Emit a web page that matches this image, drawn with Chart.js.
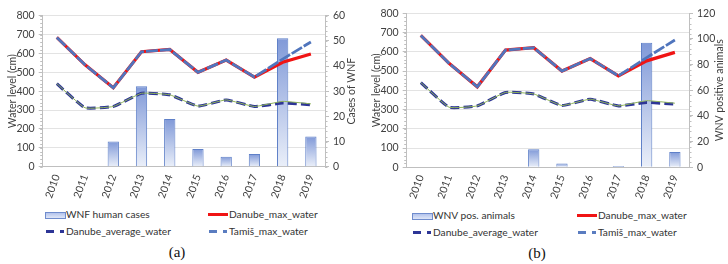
<!DOCTYPE html>
<html>
<head>
<meta charset="utf-8">
<script src="https://cdn.jsdelivr.net/npm/chart.js@4.4.1/dist/chart.umd.min.js"></script>
<style>
  html, body { margin: 0; padding: 0; background: #fff; }
  body { width: 728px; height: 264px; position: relative; overflow: hidden; font-family: Lato, "Noto Sans", sans-serif; }
  .panel { position: absolute; top: 0; width: 364px; height: 264px; }
  .panel canvas { position: absolute; left: 0; top: 0; }
  .leg { position: absolute; font-size: 10.2px; color: #333; line-height: 12px; white-space: nowrap; }
  .sym { position: absolute; }
  .caption { position: absolute; font-family: "Liberation Serif", "DejaVu Serif", serif; font-size: 15px; color: #111; transform: translate(-50%, -50%); }
</style>
</head>
<body>

<div class="panel" id="panelA" style="left:0"><canvas id="chartA" width="364" height="205"></canvas></div>
<div class="panel" id="panelB" style="left:364px"><canvas id="chartB" width="364" height="205"></canvas></div>

<script>
// ---------------------------------------------------------
// data
// ---------------------------------------------------------
const years = ['2010', '2011', '2012', '2013', '2014', '2015', '2016', '2017', '2018', '2019'];

const danubeMax     = [685, 540, 418, 609, 621, 500, 565, 475, 553, 597];
const tamisMax      = [685, 540, 418, 609, 621, 500, 565, 475, 570, 661];
const danubeAverage = [440, 312, 319, 389, 381, 321, 354, 319, 337, 328];
const greenLine     = [440, 312, 319, 389, 381, 321, 354, 319, 346, 333];

const wnfHumanCases = [0, 0, 10, 32, 19, 7, 4, 5, 51, 12];
const wnvAnimals    = [0, 0, 0, 0, 14, 3, 0, 1, 97, 12];

const leftTicks = { min: 0, max: 800, step: 100 };

// ---------------------------------------------------------
// helpers
// ---------------------------------------------------------
const TICK_FONT = { family: 'Lato', size: 10.5 };
const TEXT = '#404040';
const AXIS = '#bfbfbf';

function barGradient(ctx) {
    const chart = ctx.chart;
    if (!chart.chartArea || ctx.type !== 'data') return '#a9bbe8';
    const scale = chart.scales.y1;
    const top = scale.getPixelForValue(ctx.raw);
    const bottom = scale.getPixelForValue(0);
    if (bottom - top < 1) return '#8aa2dc';
    const g = chart.ctx.createLinearGradient(0, top, 0, bottom);
    g.addColorStop(0, '#8099d8');
    g.addColorStop(1, '#eaeff9');
    return g;
}

// minor tick marks on both y axes + right title drawn bottom-to-top
const axisExtras = {
    id: 'axisExtras',
    afterDraw(chart, args, opts) {
        const c = chart.ctx;
        c.save();
        c.strokeStyle = AXIS;
        c.lineWidth = 1;
        ['y', 'y1'].forEach(id => {
            const s = chart.scales[id];
            const step = s.options.ticks.stepSize / 5;
            const x = id === 'y' ? s.right : s.left;
            const dir = id === 'y' ? -1 : 1;
            for (let v = s.min; v <= s.max + 1e-9; v += step) {
                const py = Math.round(s.getPixelForValue(v)) + 0.5;
                c.beginPath();
                c.moveTo(x, py);
                c.lineTo(x + dir * 2.5, py);
                c.stroke();
            }
        });
        // right axis title
        c.fillStyle = TEXT;
        c.font = '10.5px Lato';
        c.textAlign = 'center';
        c.textBaseline = 'middle';
        c.translate(opts.titleX, (chart.chartArea.top + chart.chartArea.bottom) / 2);
        c.rotate(-Math.PI / 2);
        c.fillText(opts.rightTitle, 0, 0);
        c.restore();
    }
};

function makeChart(canvasId, barLabel, barValues, rightMax, rightStep, rightTitle, geom) {
    return new Chart(document.getElementById(canvasId), {
        data: {
            labels: years,
            datasets: [
                {
                    type: 'line', label: 'greenLine', data: greenLine, yAxisID: 'y',
                    borderColor: '#8fb35a', borderWidth: 1, pointRadius: 0, tension: 0.12, order: 1
                },
                {
                    type: 'line', label: 'Danube_average_water', data: danubeAverage, yAxisID: 'y',
                    borderColor: '#2d3596', borderWidth: 3, borderDash: [9, 4], pointRadius: 0, tension: 0.12, order: 2
                },
                {
                    type: 'line', label: 'Tamiš_max_water', data: tamisMax, yAxisID: 'y',
                    borderColor: '#5075bd', borderWidth: 2.8, borderDash: [12, 2], pointRadius: 0, tension: 0, order: 3
                },
                {
                    type: 'line', label: 'Danube_max_water', data: danubeMax, yAxisID: 'y',
                    borderColor: '#f01414', borderWidth: 3.2, pointRadius: 0, tension: 0, order: 4
                },
                {
                    type: 'bar', label: barLabel, data: barValues, yAxisID: 'y1',
                    backgroundColor: barGradient, borderColor: '#5f80c8', borderWidth: 1,
                    borderSkipped: 'bottom', categoryPercentage: 1, barPercentage: 0.4, order: 10
                }
            ]
        },
        options: {
            responsive: false,
            animation: false,
            layout: { padding: { top: geom.top, left: 0, right: 0, bottom: 0 } },
            plugins: {
                legend: { display: false },
                tooltip: { enabled: false },
                axisExtras: { rightTitle: rightTitle, titleX: geom.titleX }
            },
            scales: {
                x: {
                    type: 'category',
                    offset: true,
                    grid: { display: false, drawTicks: false },
                    border: { display: true, color: AXIS },
                    ticks: { minRotation: 70, maxRotation: 70, padding: 6, color: TEXT, font: TICK_FONT },
                    afterFit(s) { s.height = geom.bottom; }
                },
                y: {
                    position: 'left',
                    min: leftTicks.min, max: leftTicks.max,
                    ticks: { stepSize: leftTicks.step, padding: 4, color: TEXT, font: TICK_FONT },
                    grid: { color: '#e3e3e3', tickColor: AXIS, tickLength: 4 },
                    border: { display: true, color: AXIS },
                    title: { display: true, text: 'Water level (cm)', color: TEXT, font: TICK_FONT, padding: { top: 6, bottom: 0 } },
                    afterFit(s) { s.width = geom.left; }
                },
                y1: {
                    position: 'right',
                    min: 0, max: rightMax,
                    ticks: { stepSize: rightStep, padding: 4, color: TEXT, font: TICK_FONT },
                    grid: { drawOnChartArea: false, tickColor: AXIS, tickLength: 4 },
                    border: { display: true, color: AXIS },
                    afterFit(s) { s.width = geom.right; }
                }
            }
        },
        plugins: [axisExtras]
    });
}

makeChart('chartA', 'WNF human cases', wnfHumanCases, 60, 10, 'Cases of WNF',
    { top: 15.7, bottom: 38.3, left: 42.7, right: 39, titleX: 352 });
makeChart('chartB', 'WNV pos. animals', wnvAnimals, 120, 20, 'WNV positive animals',
    { top: 13.3, bottom: 37.7, left: 42.7, right: 39, titleX: 355.5 });

// ---------------------------------------------------------
// legends and captions (html)
// ---------------------------------------------------------
function symbolHtml(kind, x, y) {
    if (kind === 'bar') {
        return `<div class="sym" style="left:${x}px;top:${y - 3}px;width:19px;height:5px;border:1px solid #6f8ccd;background:linear-gradient(#b3c3ec,#dfe6f7)"></div>`;
    }
    if (kind === 'red') {
        return `<div class="sym" style="left:${x}px;top:${y - 1.5}px;width:20px;height:3px;background:#f01414"></div>`;
    }
    const col = kind === 'avg' ? '#2d3596' : '#5a7cc0';
    return `<div class="sym" style="left:${x + 1}px;top:${y - 1.5}px;width:8px;height:3px;background:${col}"></div>` +
           `<div class="sym" style="left:${x + 15}px;top:${y - 1.5}px;width:4px;height:3px;background:${col}"></div>`;
}

function buildLegend(panelId, barLabel, col1, col2, row1, row2, captionText, capX, capY) {
    const panel = document.getElementById(panelId);
    const items = [
        ['bar', barLabel, col1, row1],
        ['red', 'Danube_max_water', col2, row1],
        ['avg', 'Danube_average_water', col1, row2],
        ['tamis', 'Tamiš_max_water', col2, row2]
    ];
    let html = '';
    items.forEach(([kind, text, x, y]) => {
        html += symbolHtml(kind, x, y);
        html += `<div class="leg" style="left:${x + 21}px;top:${y - 6.5}px">${text}</div>`;
    });
    html += `<div class="caption" style="left:${capX}px;top:${capY}px">${captionText}</div>`;
    panel.insertAdjacentHTML('beforeend', html);
}

buildLegend('panelA', 'WNF human cases', 45, 208, 214.5, 231, '(a)', 177, 252);
buildLegend('panelB', 'WNV pos. animals', 48, 213, 215.5, 232.5, '(b)', 173, 253);
</script>
</body>
</html>
